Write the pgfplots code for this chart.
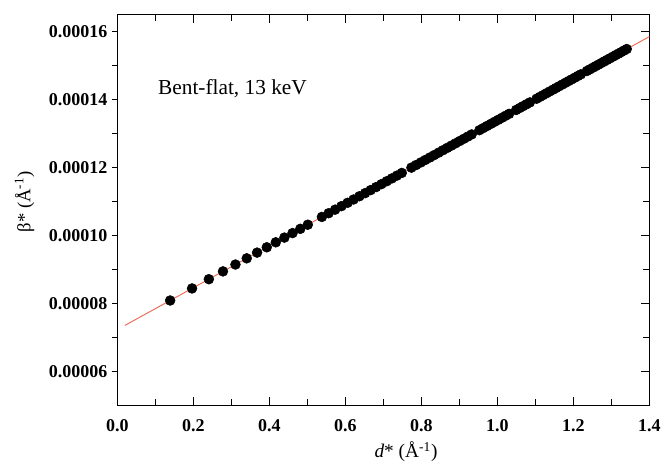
\documentclass[border=0pt]{standalone}
\usepackage{fontspec}
\setmainfont{Liberation Serif}
\usepackage{pgfplots}
\pgfplotsset{compat=1.18}
\usetikzlibrary{calc}
\definecolor{fitred}{RGB}{236,104,84}

\begin{document}
\begin{tikzpicture}
% axis with the ticks on the left (outward) and the y labels
\begin{axis}[
    scale only axis, width=399pt, height=293pt,
    xmin=0, xmax=1.4, ymin=0.00005, ymax=0.000165,
    xtick=\empty,
    ytick={0.00006,0.00008,0.0001,0.00012,0.00014,0.00016},
    minor y tick num=1,
    ytick pos=left, tick align=outside,
    major tick length=4pt, minor tick length=4pt,
    scaled y ticks=false,
    yticklabel style={/pgf/number format/fixed, /pgf/number format/fixed zerofill,
        /pgf/number format/precision=5, /pgf/number format/assume math mode=true},
    tick label style={font=\fontsize{13.5}{16}\selectfont\bfseries},
    ylabel={β* (Å\textsuperscript{-1})},
    ylabel style={font=\fontsize{14}{17}\selectfont, xshift=6pt, yshift=4pt},
    axis line style={line width=0.9pt},
    tick style={line width=0.8pt, black},
]
\end{axis}
% main axis: data, x ticks (inside) and right-hand ticks
\begin{axis}[
    scale only axis, width=399pt, height=293pt,
    xmin=0, xmax=1.4, ymin=0.00005, ymax=0.000165,
    xtick={0,0.2,...,1.4}, minor x tick num=1,
    ytick={0.00006,0.00008,0.0001,0.00012,0.00014,0.00016},
    minor y tick num=1,
    ytick pos=right, yticklabels={},
    tick align=inside,
    major tick length=6pt, minor tick length=5pt,
    scaled y ticks=false,
    xticklabel style={/pgf/number format/fixed, /pgf/number format/fixed zerofill,
        /pgf/number format/precision=1, /pgf/number format/assume math mode=true, yshift=-7pt},
    tick label style={font=\fontsize{13.5}{16}\selectfont\bfseries},
    xlabel={\textit{d}* (Å\textsuperscript{-1})},
    xlabel style={font=\fontsize{14.5}{17}\selectfont, xshift=17pt, yshift=-1pt},
    axis line style={line width=0.9pt},
    tick style={line width=0.8pt, black},
    clip=false,
]
\addplot[fitred, line width=0.7pt] coordinates {(0.02,0.00007353) (1.4,0.00015854)};
\addplot[only marks, mark=*, mark size=3.7pt, black] coordinates {
(0.1390,0.00008086) (0.1966,0.00008441) (0.2408,0.00008713) (0.2780,0.00008943)
(0.3108,0.00009145) (0.3405,0.00009327) (0.3678,0.00009496) (0.3932,0.00009652)
(0.4170,0.00009799) (0.4396,0.00009938) (0.4610,0.00010070) (0.4815,0.00010196)
(0.5012,0.00010317) (0.5383,0.00010546) (0.5560,0.00010655) (0.5731,0.00010760)
(0.5897,0.00010863) (0.6059,0.00010962) (0.6216,0.00011059) (0.6370,0.00011154)
(0.6520,0.00011246) (0.6666,0.00011336) (0.6810,0.00011425) (0.6950,0.00011511)
(0.7088,0.00011596) (0.7223,0.00011679) (0.7355,0.00011761) (0.7485,0.00011841)
(0.7739,0.00011997) (0.7863,0.00012074) (0.7985,0.00012149) (0.8105,0.00012223)
(0.8223,0.00012295) (0.8340,0.00012367) (0.8455,0.00012438) (0.8569,0.00012509)
(0.8681,0.00012578) (0.8791,0.00012645) (0.8900,0.00012712) (0.9008,0.00012779)
(0.9115,0.00012845) (0.9220,0.00012910) (0.9324,0.00012974) (0.9529,0.00013100)
(0.9630,0.00013162) (0.9730,0.00013224) (0.9829,0.00013285) (0.9927,0.00013345)
(1.0023,0.00013404) (1.0119,0.00013463) (1.0214,0.00013522) (1.0309,0.00013580)
(1.0494,0.00013694) (1.0586,0.00013751) (1.0677,0.00013807) (1.0767,0.00013862)
(1.0856,0.00013917) (1.1033,0.00014026) (1.1120,0.00014080) (1.1207,0.00014133)
(1.1292,0.00014186) (1.1378,0.00014239) (1.1462,0.00014291) (1.1546,0.00014342)
(1.1630,0.00014394) (1.1712,0.00014445) (1.1795,0.00014496) (1.1876,0.00014546)
(1.1957,0.00014595) (1.2038,0.00014645) (1.2118,0.00014695) (1.2197,0.00014743)
(1.2355,0.00014841) (1.2433,0.00014889) (1.2510,0.00014936) (1.2587,0.00014984)
(1.2663,0.00015030) (1.2740,0.00015078) (1.2815,0.00015124) (1.2890,0.00015170)
(1.2965,0.00015216) (1.3039,0.00015262) (1.3113,0.00015308) (1.3187,0.00015353)
(1.3260,0.00015398) (1.3332,0.00015443) (1.3405,0.00015488)
};
\node[anchor=west, font=\fontsize{16}{19}\selectfont] at (axis cs:0.095,0.0001432) {Bent-flat, 13 keV};
\end{axis}
\pgfresetboundingbox
\path (current axis.south west) ++(-88pt,-45pt) rectangle ($(current axis.north east)+(11pt,11pt)$);
\end{tikzpicture}
\end{document}
